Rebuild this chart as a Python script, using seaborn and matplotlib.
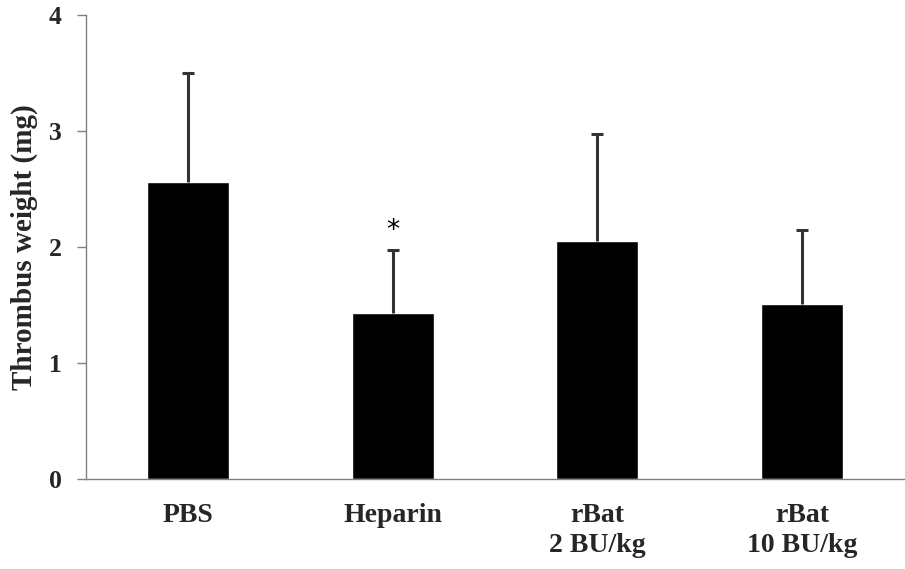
import matplotlib
matplotlib.use("Agg")
import matplotlib.pyplot as plt
import seaborn as sns
import pandas as pd
import numpy as np
from matplotlib.ticker import FixedLocator

categories = ["PBS", "Heparin", "rBat\n2 BU/kg", "rBat\n10 BU/kg"]
means = [2.56, 1.43, 2.05, 1.51]
errors = [0.94, 0.54, 0.92, 0.64]
y_ticks = [0, 1, 2, 3, 4]
significance = ["", "*", "", ""]

df = pd.DataFrame({"group": categories, "weight": means})

sns.set_style("white")
plt.rcParams["font.family"] = ["Liberation Serif", "DejaVu Serif"]

fig = plt.figure(figsize=(9.05, 5.69), dpi=100)
ax = fig.add_axes([0.095, 0.1582, 0.904, 0.8154])

sns.barplot(data=df, x="group", y="weight", color="black", width=0.4,
            errorbar=None, ax=ax, saturation=1)

xpos = np.arange(len(categories))
eb = ax.errorbar(xpos, means, yerr=[np.zeros(len(means)), errors], fmt="none",
                 ecolor="#333333", elinewidth=2.2, capsize=4.5, capthick=2.2)
# hide the lower caps (only upper error shown)
caplines = eb[1]
if len(caplines) == 2:
    caplines[0].set_visible(False)

for x, m, e, s in zip(xpos, means, errors, significance):
    if s:
        ax.text(x, m + e + 0.06, s, ha="center", va="bottom", fontsize=19,
                family="DejaVu Sans", color="black")

ax.set_xlim(-0.5, 3.5)
ax.set_ylim(0, 4)
ax.set_yticks(y_ticks)
ax.set_yticklabels([str(t) for t in y_ticks], fontsize=18.5, fontweight="bold")
ax.set_xticklabels(categories, fontsize=20, fontweight="bold", linespacing=1.3)
ax.set_xlabel("")
ax.set_ylabel("Thrombus weight (mg)", fontsize=21, fontweight="bold", labelpad=8)

ax.xaxis.set_minor_locator(FixedLocator([0.5, 1.5, 2.5, 3.5]))
ax.tick_params(axis="x", which="major", length=0, pad=17)
ax.tick_params(axis="x", which="minor", length=7, width=1, color="#808080", direction="out")
ax.tick_params(axis="y", which="major", length=6.5, width=1, color="#808080", direction="out", pad=11, left=True)

for side in ["top", "right"]:
    ax.spines[side].set_visible(False)
for side in ["left", "bottom"]:
    ax.spines[side].set_color("#808080")
    ax.spines[side].set_linewidth(1)

fig.savefig("out.png", dpi=100)
